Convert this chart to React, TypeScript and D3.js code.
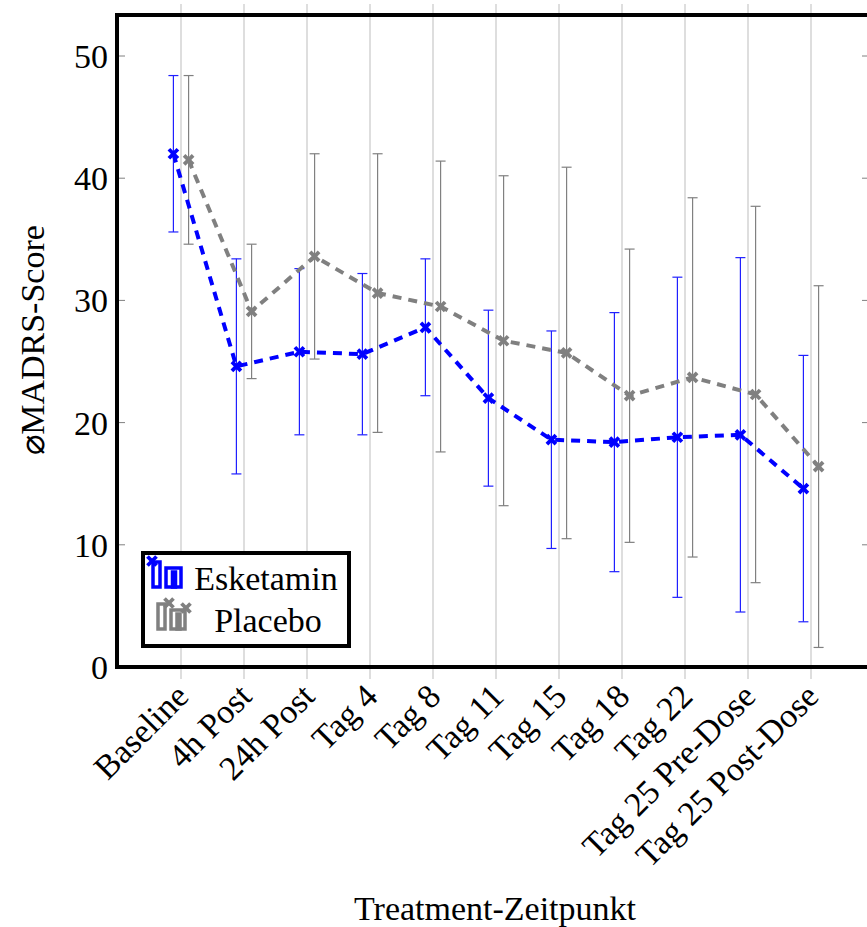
import React from "react";
import * as d3 from "d3";

const categories = ["Baseline", "4h Post", "24h Post", "Tag 4", "Tag 8", "Tag 11", "Tag 15", "Tag 18", "Tag 22", "Tag 25 Pre-Dose", "Tag 25 Post-Dose"];
const esketaminMean = [42.0, 24.6, 25.8, 25.6, 27.8, 22.0, 18.6, 18.4, 18.8, 19.0, 14.6];
const esketaminSD = [6.4, 8.8, 6.8, 6.6, 5.6, 7.2, 8.9, 10.6, 13.1, 14.5, 10.9];
const placeboMean = [41.5, 29.1, 33.6, 30.6, 29.5, 26.7, 25.7, 22.2, 23.7, 22.3, 16.4];
const placeboSD = [6.9, 5.5, 8.4, 11.4, 11.9, 13.5, 15.2, 12.0, 14.7, 15.4, 14.8];
const yTicks = [0, 10, 20, 30, 40, 50];

const W = 867, H = 927;
const FONT = "'Liberation Serif', 'DejaVu Serif', serif";
const FS = 34;

export default function App() {
  const x = d3.scaleLinear().domain([0, categories.length - 1]).range([181, 811]);
  const y = d3.scaleLinear().domain([0, 50]).range([667, 56]);
  const box = { l: 117, t: 15, r: 874, b: 667 };
  const off = 7.6;

  const series = [
    { name: "Esketamin", mean: esketaminMean, sd: esketaminSD, color: "#0000ff", err: "#2020ff", dx: -off },
    { name: "Placebo", mean: placeboMean, sd: placeboSD, color: "#808080", err: "#808080", dx: off },
  ];

  const line = (s: typeof series[0]) =>
    d3.line<number>().x((_, i) => x(i) + s.dx).y((d) => y(d))(s.mean) || "";

  const cross = (cx: number, cy: number, color: string, key: string) => (
    <g key={key} stroke={color} strokeWidth={3.8} strokeLinecap="butt">
      <line x1={cx - 4.5} y1={cy - 4.5} x2={cx + 4.5} y2={cy + 4.5} />
      <line x1={cx - 4.5} y1={cy + 4.5} x2={cx + 4.5} y2={cy - 4.5} />
    </g>
  );

  return (
    <svg width={W} height={H} style={{ position: "absolute", left: 0, top: 0, background: "#fff" }} fontFamily={FONT}>
      {/* grid */}
      {categories.map((c, i) => (
        <line key={c} x1={x(i)} x2={x(i)} y1={4} y2={679} stroke="#c8c8c8" strokeWidth={1.2} />
      ))}
      {/* y ticks */}
      {yTicks.map((t) => (
        <g key={t}>
          <line x1={box.l} x2={box.l + 8} y1={y(t)} y2={y(t)} stroke="#808080" strokeWidth={1} />
          <line x1={box.r - 12} x2={box.r} y1={y(t)} y2={y(t)} stroke="#808080" strokeWidth={1} />
          <text x={108} y={y(t)} dy="0.35em" textAnchor="end" fontSize={FS}>{t}</text>
        </g>
      ))}
      {/* error bars */}
      {series.map((s) =>
        s.mean.map((m, i) => {
          const cx = x(i) + s.dx;
          const y1 = y(m + s.sd[i]);
          const y2 = y(m - s.sd[i]);
          return (
            <g key={s.name + i} stroke={s.err} strokeWidth={1.2}>
              <line x1={cx} x2={cx} y1={y1} y2={y2} />
              <line x1={cx - 5} x2={cx + 5} y1={y1} y2={y1} />
              <line x1={cx - 5} x2={cx + 5} y1={y2} y2={y2} />
            </g>
          );
        })
      )}
      {/* lines */}
      {series.map((s) => (
        <path key={s.name} d={line(s)} fill="none" stroke={s.color} strokeWidth={4} strokeDasharray="9 7" />
      ))}
      {series.map((s) => s.mean.map((m, i) => cross(x(i) + s.dx, y(m), s.color, s.name + "m" + i)))}
      {/* box */}
      <rect x={box.l} y={box.t} width={box.r - box.l} height={box.b - box.t} fill="none" stroke="#000" strokeWidth={4} />
      {/* legend */}
      <g>
        <rect x={143} y={553} width={206} height={93} fill="#fff" stroke="#000" strokeWidth={4} />
        <g fill="none" stroke="#0000ff" strokeWidth={3.5}>
          <rect x={153} y={562} width={7} height={25} />
          <rect x={166} y={568} width={15} height={19} />
          <rect x={172.5} y={572} width={3} height={15} />
        </g>
        {cross(152, 561, "#0000ff", "lg1")}
        <g fill="none" stroke="#808080" strokeWidth={3.5}>
          <rect x={158} y={604} width={7} height={25} />
          <rect x={171} y={610} width={14} height={19} />
          <rect x={177} y={614} width={3} height={15} />
        </g>
        {cross(169, 603, "#808080", "lg2")}
        {cross(186, 608, "#808080", "lg3")}
        <text x={266} y={578} dy="0.35em" textAnchor="middle" fontSize={FS}>Esketamin</text>
        <text x={268} y={620} dy="0.35em" textAnchor="middle" fontSize={FS}>Placebo</text>
      </g>
      {/* x tick labels */}
      {categories.map((c, i) => (
        <text key={c} transform={`translate(${x(i) + 1},${690}) rotate(-45)`} textAnchor="end" dy="0.35em" fontSize={FS}>{c}</text>
      ))}
      {/* axis titles */}
      <text x={495} y={908} dy="0.35em" textAnchor="middle" fontSize={FS}>Treatment-Zeitpunkt</text>
      <text transform={`translate(32,340) rotate(-90)`} textAnchor="middle" dy="0.35em" fontSize={FS}>⌀MADRS-Score</text>
    </svg>
  );
}
